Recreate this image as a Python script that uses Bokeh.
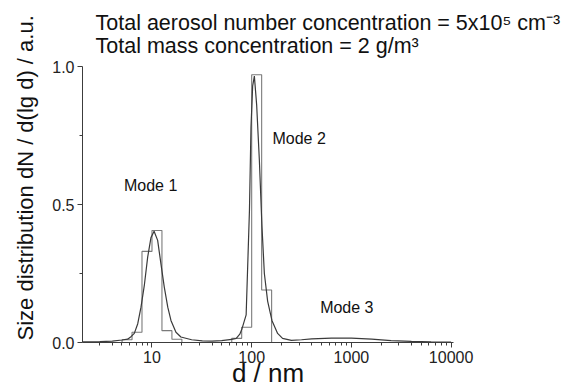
from bokeh.plotting import figure
from bokeh.models import (Label, Title, PrintfTickFormatter,
                          NumeralTickFormatter, Range1d, FixedTicker)
from bokeh.embed import file_html
from bokeh.resources import INLINE

# ---- data ----
# fitted smooth size distribution (d in nm, dN/d(lg d) in a.u.)
curve_d = [2.0, 3.0, 4.0, 5.0, 5.7, 6.2, 6.65, 7.2, 7.76, 8.4, 9.06, 9.77,
           10.5, 11.4, 12.3, 13.3, 14.4, 15.5, 17.4, 19.5, 25, 32, 40, 50,
           63, 70, 76, 80, 88, 95, 98.4, 102.3, 106.4, 112.2, 119.4, 126.8,
           134, 144.5, 159.6, 182, 204, 250, 316, 400, 630, 1000, 1600,
           2500, 4000, 6300, 10000]
curve_v = [0.002, 0.003, 0.005, 0.009, 0.012, 0.022, 0.033, 0.068, 0.128,
           0.21, 0.31, 0.38, 0.403, 0.37, 0.285, 0.2, 0.128, 0.08, 0.037,
           0.02, 0.01, 0.006, 0.005, 0.007, 0.011, 0.015, 0.03, 0.05, 0.1,
           0.48, 0.78, 0.93, 0.965, 0.86, 0.66, 0.42, 0.25, 0.15, 0.08,
           0.033, 0.015, 0.008, 0.01, 0.013, 0.016, 0.016, 0.012, 0.007,
           0.004, 0.002, 0.001]

# measured histograms (bin edges in nm, bin heights)
mode1_edges = [5.01, 6.31, 7.94, 10.0, 12.59, 15.85, 19.95]
mode1_vals = [0.01, 0.037, 0.33, 0.406, 0.043, 0.012]
mode2_edges = [63.1, 79.4, 100.0, 125.9, 158.5]
mode2_vals = [0.015, 0.055, 0.97, 0.19]

x_ticks = [10, 100, 1000, 10000]
x_minor = [k * dec for dec in (1, 10, 100, 1000) for k in range(3, 10)] + \
          [k * dec for dec in (10, 100, 1000) for k in (2,)]
y_ticks = [0.0, 0.5, 1.0]
y_minor = [0.25, 0.75]

mode_names = ["Mode 1", "Mode 2", "Mode 3"]
title_1 = "Total aerosol number concentration = 5x10\u2075 cm\u207b\u00b3"
title_2 = "Total mass concentration = 2 g/m\u00b3"
y_title = "Size distribution dN / d(lg d) / a.u."
x_title = "d / nm"

FONT = "Liberation Sans"
AX = "#3c3c3c"

p = figure(width=576, height=390, x_axis_type="log",
           x_range=Range1d(2.01, 10570), y_range=Range1d(0, 1.0),
           output_backend="svg", toolbar_location=None,
           min_border_left=82, min_border_right=123,
           min_border_top=66, min_border_bottom=48)
p.outline_line_color = None
p.grid.visible = False

# two-line heading
p.title.text = title_1 + "\n" + title_2
p.title.align = "left"
p.title.offset = 13
p.title.text_font = FONT
p.title.text_font_size = "21.5px"
p.title.text_font_style = "normal"
p.title.text_color = "#111111"
p.title.text_line_height = 0.95
p.title.standoff = 17

# histograms as step outlines
for edges, vals in ((mode1_edges, mode1_vals), (mode2_edges, mode2_vals)):
    xs = [edges[0]] + list(edges)
    ys = [0.0] + list(vals) + [0.0]
    p.step(xs, ys, mode="after", line_color="#7a7a7a", line_width=1.1)

# smooth fitted curve
p.line(curve_d, curve_v, line_color="#3a3a3a", line_width=1.2)

# axes
xa = p.xaxis[0]
xa.ticker = FixedTicker(ticks=x_ticks, minor_ticks=x_minor)
xa.formatter = NumeralTickFormatter(format="0")
xa.axis_label = x_title
xa.axis_label_text_font = FONT
xa.axis_label_text_font_size = "26px"
xa.axis_label_text_font_style = "normal"
xa.axis_label_text_color = "#111111"
xa.axis_label_standoff = -8

ya = p.yaxis[0]
ya.ticker = FixedTicker(ticks=y_ticks, minor_ticks=y_minor)
ya.formatter = PrintfTickFormatter(format="%.1f")

for ax in (xa, ya):
    ax.axis_line_color = AX
    ax.major_tick_line_color = AX
    ax.minor_tick_line_color = AX
    ax.major_tick_out = 5
    ax.major_tick_in = 0
    ax.minor_tick_out = 3
    ax.minor_tick_in = 0
    ax.major_label_text_font = FONT
    ax.major_label_text_font_size = "16px"
    ax.major_label_text_color = "#222222"
    ax.major_label_standoff = 3

# y-axis title as a side title starting near the frame bottom
p.add_layout(Title(text=y_title, align="left", offset=2, vertical_align="top",
                   text_font=FONT, text_font_size="22px",
                   text_font_style="normal", text_color="#111111",
                   standoff=20), "left")

# mode labels
mode_x = [9.7, 299, 900]
mode_y = [0.57, 0.74, 0.127]
for name, mx, my in zip(mode_names, mode_x, mode_y):
    p.add_layout(Label(x=mx, y=my, text=name, text_font=FONT,
                       text_font_size="16px", text_color="#111111",
                       text_align="center", text_baseline="middle"))

open("out.html", "w").write(file_html(p, INLINE))
